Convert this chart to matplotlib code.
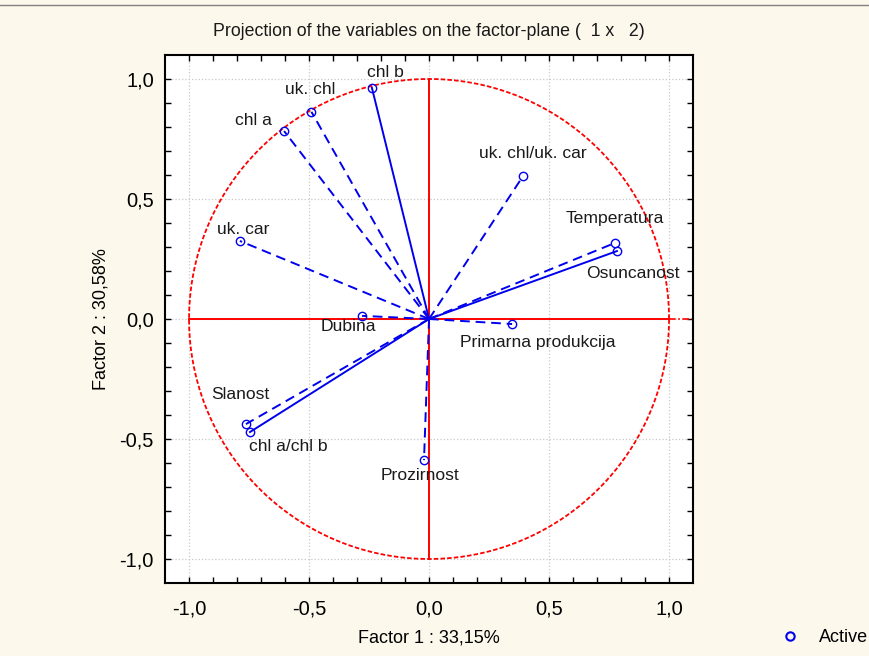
import numpy as np
from matplotlib import pyplot as plt
from matplotlib.lines import Line2D

plt.rcParams['font.family'] = ['Liberation Sans', 'DejaVu Sans']

variables = ["chl b", "uk. chl", "chl a", "uk. car", "Dubina", "uk. chl/uk. car",
             "Temperatura", "Osuncanost", "Primarna produkcija", "Slanost",
             "chl a/chl b", "Prozirnost"]
factor1 = [-0.238, -0.49, -0.604, -0.788, -0.279, 0.392,
           0.775, 0.783, 0.346, -0.763, -0.746, -0.021]
factor2 = [0.963, 0.863, 0.783, 0.325, 0.013, 0.596,
           0.317, 0.283, -0.021, -0.438, -0.471, -0.588]
solid = [True, False, False, False, False, False,
         False, True, False, False, True, False]
# label offsets in pixels
label_dx = [14, -1, -31, 3, -14, 10, 0, 16, 26, -6, 38, -4]
label_dy = [15, 22, 11, 11, -11, 22, 24, -22, -18, 30, -14, -15]

bg = "#FDF8EC"
fig = plt.figure(figsize=(8.7, 6.56), dpi=100, facecolor=bg)
ax = fig.add_axes([0.1897, 0.1113, 0.6069, 0.8049])
ax.set_facecolor("white")

# unit circle and axes
t = np.linspace(0, 2 * np.pi, 400)
ax.plot(np.cos(t), np.sin(t), color="red", lw=1.3, ls=(0, (2.5, 1.2)), zorder=2)
ax.plot([-1, 1], [0, 0], color="red", lw=1.4, zorder=2)
ax.plot([1, 1.1], [0, 0], color="red", lw=1.2, ls=(0, (4, 1.5, 1, 1.5)), zorder=2)
ax.plot([0, 0], [-1, 1], color="red", lw=1.4, zorder=2)

for name, x, y, s, dx, dy in zip(variables, factor1, factor2, solid, label_dx, label_dy):
    ls = "-" if s else (0, (5, 3))
    ax.plot([0, x], [0, y], color="#0000EE", lw=1.4, ls=ls, zorder=3)
    ax.plot(x, y, "o", mfc="none", mec="#0000EE", ms=6, mew=1, zorder=4)
    ax.annotate(name, (x, y), xytext=(dx, dy), textcoords="offset pixels",
                ha="center", va="center", fontsize=12.6, color="#1a1a1a")

ax.set_xlim(-1.1, 1.1)
ax.set_ylim(-1.1, 1.1)
ticks = [-1.0, -0.5, 0.0, 0.5, 1.0]
labels = ["-1,0", "-0,5", "0,0", "0,5", "1,0"]
ax.set_xticks(ticks)
ax.set_xticklabels(labels)
ax.set_yticks(ticks)
ax.set_yticklabels(labels)
ax.set_xticks(np.arange(-1.0, 1.05, 0.1), minor=True)
ax.set_yticks(np.arange(-1.0, 1.05, 0.1), minor=True)
ax.tick_params(which="both", direction="in", top=True, right=True, length=4,
               width=1, labelsize=14.5, pad=8)
ax.tick_params(axis="x", pad=12)
ax.grid(True, which="major", color="#c8c8c8", ls=":", lw=0.9)
for sp in ax.spines.values():
    sp.set_linewidth(1.5)

ax.set_title("Projection of the variables on the factor-plane (  1 x   2)",
             fontsize=12.8, pad=14, color="#1a1a1a")
ax.set_xlabel("Factor 1 : 33,15%", fontsize=13, labelpad=8)
ax.set_ylabel("Factor 2 : 30,58%", fontsize=13, labelpad=7)

handle = Line2D([], [], ls="none", marker="o", mfc="none", mec="#0000EE", ms=6, mew=1.5)
fig.legend([handle], ["Active"], loc="center right", bbox_to_anchor=(1.016, 0.028),
           frameon=False, fontsize=13, handletextpad=0.6)

fig.add_artist(Line2D([0, 1], [0.993, 0.993], color="gray", lw=1))

fig.savefig("out.png", dpi=100, facecolor=bg)
